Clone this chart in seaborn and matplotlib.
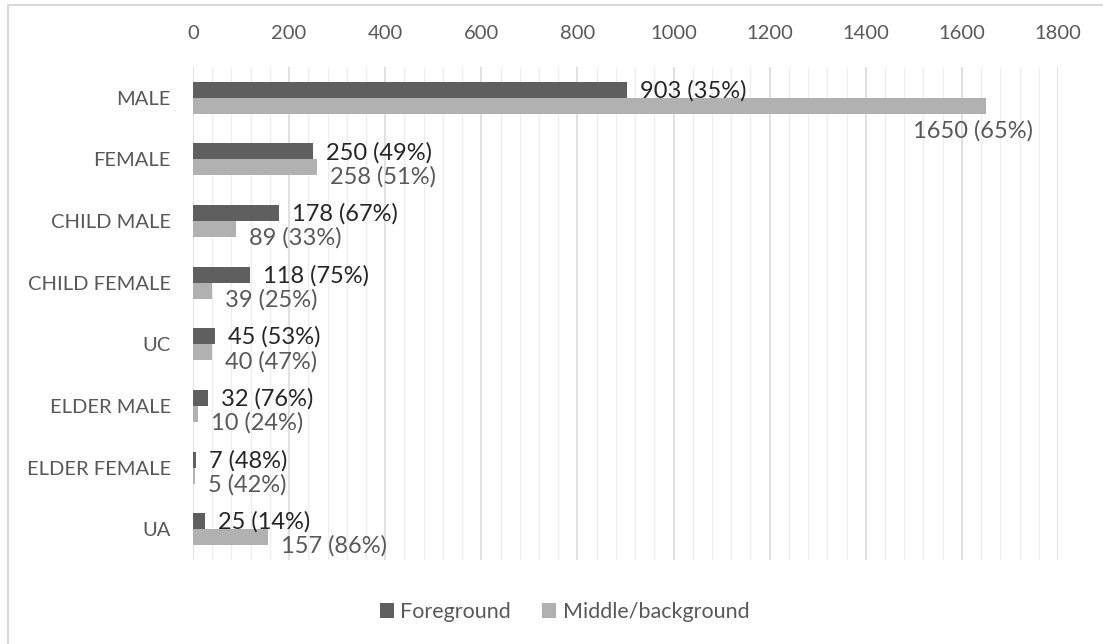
import matplotlib
matplotlib.use("Agg")
import matplotlib.pyplot as plt
from matplotlib.ticker import MultipleLocator, FixedLocator
from matplotlib.patches import Rectangle
import seaborn as sns
import pandas as pd

# Counts by subject type, split by position in the scene
categories = ["MALE", "FEMALE", "CHILD MALE", "CHILD FEMALE", "UC",
              "ELDER MALE", "ELDER FEMALE", "UA"]
foreground = [903, 250, 178, 118, 45, 32, 7, 25]
foreground_pct = [35, 49, 67, 75, 53, 76, 48, 14]
background = [1650, 258, 89, 39, 40, 10, 5, 157]
background_pct = [65, 51, 33, 25, 47, 24, 42, 86]
series = ["Foreground", "Middle/background"]
x_ticks = [0, 200, 400, 600, 800, 1000, 1200, 1400, 1600, 1800]

FG_COLOR = "#5f5f5f"
BG_COLOR = "#b1b1b1"
TEXT_GRAY = "#595959"

sns.set_theme(style="white")
plt.rcParams["font.family"] = ["Lato", "DejaVu Sans"]

df = pd.DataFrame({
    "category": categories * 2,
    "count": foreground + background,
    "series": [series[0]] * len(categories) + [series[1]] * len(categories),
})

W, H = 1103, 644
fig = plt.figure(figsize=(W / 100, H / 100), dpi=100)
left, right, top, bottom = 193, 1058, 67, 560
ax = fig.add_axes([left / W, 1 - bottom / H, (right - left) / W, (bottom - top) / H])

sns.barplot(data=df, y="category", x="count", hue="series", order=categories,
            hue_order=series, palette=[FG_COLOR, BG_COLOR], orient="h",
            width=0.52, saturation=1, edgecolor="none", linewidth=0, ax=ax)

handles, labels = ax.get_legend_handles_labels()
if ax.get_legend() is not None:
    ax.get_legend().remove()

ax.set_xlim(x_ticks[0], x_ticks[-1])
ax.xaxis.set_major_locator(FixedLocator(x_ticks))
ax.xaxis.set_minor_locator(MultipleLocator(40))
ax.xaxis.tick_top()
ax.set_xlabel("")
ax.set_ylabel("")
ax.tick_params(axis="x", which="both", length=0, pad=18, labelsize=14.5, labelcolor=TEXT_GRAY)
ax.tick_params(axis="y", length=0, pad=16, labelsize=14.5, labelcolor=TEXT_GRAY)
ax.grid(axis="x", which="major", color="#d9d9d9", lw=1.1)
ax.grid(axis="x", which="minor", color="#eeeeee", lw=1.0)
ax.grid(axis="y", visible=False)
ax.set_axisbelow(True)
for s in ax.spines.values():
    s.set_visible(False)

# Value labels: "count (share%)" beside each bar
fig.canvas.draw()
renderer = fig.canvas.get_renderer()
axes_right_px = ax.get_window_extent().x1
label_sets = [
    (foreground, foreground_pct, "#262626", -1),
    (background, background_pct, TEXT_GRAY, -9),
]
for container, (vals, pcts, color, dy) in zip(ax.containers, label_sets):
    for bar, v, p in zip(container, vals, pcts):
        x_end = bar.get_width()
        y_mid = bar.get_y() + bar.get_height() / 2
        txt = ax.annotate(f"{v} ({p}%)", xy=(x_end, y_mid), xytext=(13, dy),
                          textcoords="offset pixels", ha="left", va="center",
                          fontsize=17, color=color)
        ext = txt.get_window_extent(renderer)
        if ext.x1 > axes_right_px:
            # too long to fit to the right: tuck it under the bar end
            txt.set_horizontalalignment("center")
            txt.xyann = (-13, -25)

fig.legend(handles, labels, loc="center", bbox_to_anchor=(0.512, 1 - 612 / H),
           ncol=2, frameon=False, fontsize=15.5, labelcolor=TEXT_GRAY,
           handlelength=0.65, handleheight=0.65, handletextpad=0.3,
           columnspacing=1.45)

# chart frame
fig.add_artist(Rectangle((8 / W, -0.1), 1.2, 1.1 - 5 / H, transform=fig.transFigure,
                         facecolor="none", edgecolor="#d9d9d9", lw=1.5, clip_on=False))

fig.savefig("out.png", dpi=100)
